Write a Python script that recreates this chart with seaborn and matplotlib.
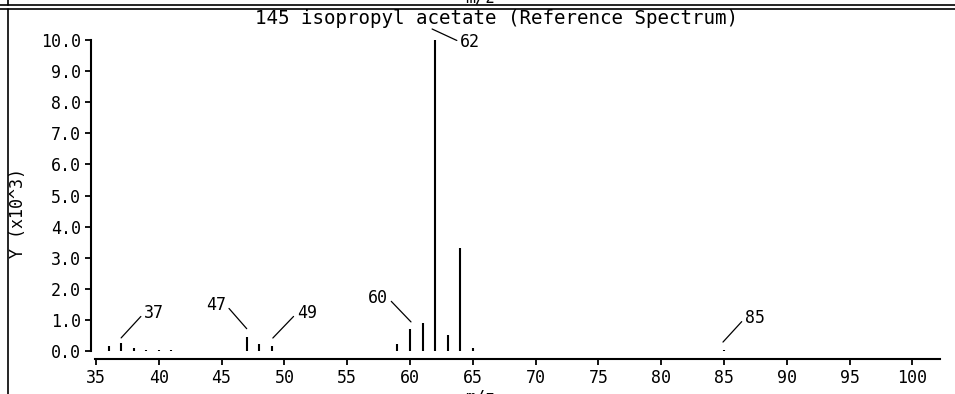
import matplotlib
matplotlib.use("Agg")
import matplotlib.pyplot as plt
from matplotlib.lines import Line2D
from matplotlib.transforms import offset_copy
import seaborn as sns

# spectrum data (intensity in units of 10^3)
mz = [36, 37, 38, 39, 40, 41, 47, 48, 49, 59, 60, 61, 62, 63, 64, 65, 85]
intensity = [0.17, 0.26, 0.09, 0.03, 0.03, 0.03, 0.46, 0.22, 0.16,
             0.22, 0.71, 0.89, 10.0, 0.53, 3.31, 0.10, 0.03]

# labelled peaks
label_mz = [37, 47, 49, 60, 62, 85]
x_ticks = [35, 40, 45, 50, 55, 60, 65, 70, 75, 80, 85, 90, 95, 100]
y_ticks = [0, 1, 2, 3, 4, 5, 6, 7, 8, 9, 10]

title = "145 isopropyl acetate (Reference Spectrum)"

sns.set_theme(style="ticks")
plt.rcParams['font.family'] = ['DejaVu Sans Mono', 'DejaVu Sans']
plt.rcParams['font.size'] = 12
plt.rcParams['text.color'] = 'black'
plt.rcParams['axes.labelcolor'] = 'black'

fig = plt.figure(figsize=(9.55, 3.94), dpi=100)
ax = fig.add_axes([95 / 955, 43 / 394, 845 / 955, 311 / 394])

ax.vlines(mz, 0, intensity, colors='black', linewidth=1.5)
ax.set_xlim(34.92, 102.2)
ax.set_ylim(0, 10)

ax.set_xticks(x_ticks)
ax.set_yticks(y_ticks)
ax.set_yticklabels([f"{v:.1f}" for v in y_ticks])
ax.tick_params(axis='both', colors='black', labelsize=12, length=4, width=1.3, pad=3)
ax.set_xlabel("m/z", fontsize=12)
ax.set_ylabel("Y (x10^3)", fontsize=12)
ax.xaxis.set_label_coords(0.4556, -0.119)
ax.yaxis.set_label_coords(-0.0805, 0.444)

sns.despine(ax=ax)
ax.spines['left'].set_position(('outward', 3))
ax.spines['bottom'].set_position(('outward', 6))
ax.spines['left'].set_bounds(0, 10)
for s in ['left', 'bottom']:
    ax.spines[s].set_color('black')
    ax.spines[s].set_linewidth(1.5)

# peak labels: (tip offset px, text offset px, alignment)
label_pos = {
    37: ((0, 5), (23, 30), 'left'),
    47: ((0, 8), (-21, 32), 'right'),
    49: ((1, 8), (25, 33), 'left'),
    60: ((1, 7), (-22, 31), 'right'),
    62: ((-3, 11), (25, -2), 'left'),
    85: ((-1, 8), (21, 32), 'left'),
}
for m in label_mz:
    h = intensity[mz.index(m)]
    (tx, ty), (dx, dy), ha = label_pos[m]
    tip = offset_copy(ax.transData, fig=fig, x=tx, y=ty, units='dots')
    ax.annotate(str(m), xy=(m, h), xycoords=tip,
                xytext=(dx - tx, dy - ty), textcoords='offset pixels',
                ha=ha, va='center', fontsize=12, color='black',
                annotation_clip=False,
                arrowprops=dict(arrowstyle='-', color='black', lw=0.9,
                                shrinkA=0, shrinkB=0,
                                relpos=(0 if ha == 'left' else 1, 0.5)))

fig.text(496 / 955, 1 - 18 / 394, title, ha='center', va='center',
         fontsize=13.8, color='black')

# frame lines of the surrounding panels
fig.add_artist(Line2D([0, 1], [1 - 5 / 394, 1 - 5 / 394], transform=fig.transFigure, color='black', lw=1.2))
fig.add_artist(Line2D([0, 1], [1 - 9 / 394, 1 - 9 / 394], transform=fig.transFigure, color='black', lw=1.2))
fig.add_artist(Line2D([8 / 955, 8 / 955], [1, 1 - 5 / 394], transform=fig.transFigure, color='black', lw=1.2))
fig.add_artist(Line2D([8 / 955, 8 / 955], [1 - 9 / 394, 0], transform=fig.transFigure, color='black', lw=1.2))
fig.text(480 / 955, 1 - 3 / 394, "m/z", ha='center', va='baseline', fontsize=12, color='black')

fig.savefig("out.png", dpi=100)
